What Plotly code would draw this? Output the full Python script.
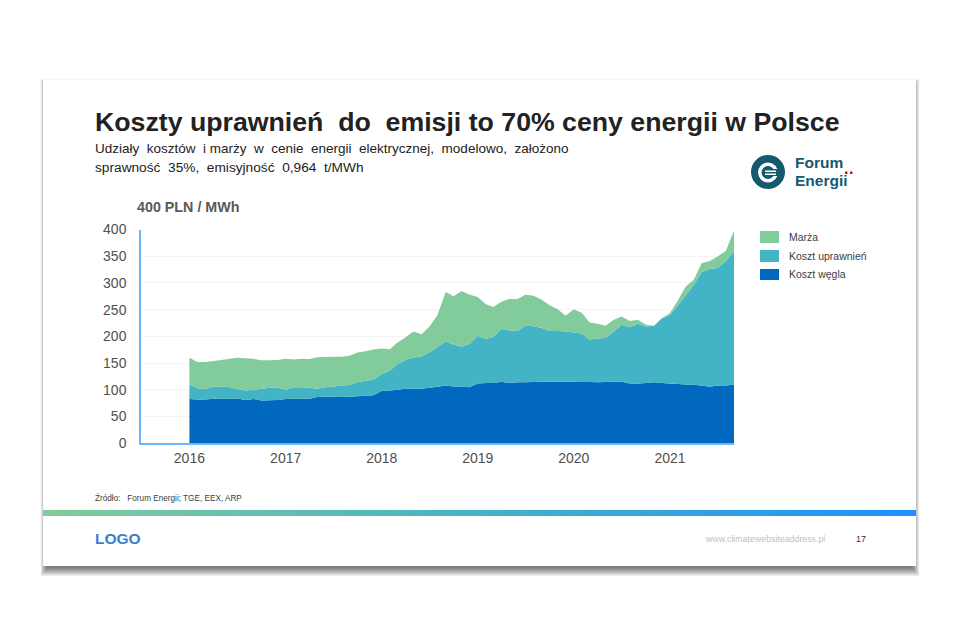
import pandas as pd
import plotly.graph_objects as go

# monthly values, PLN / MWh
months = pd.date_range("2016-01-01", "2021-09-01", freq="MS")

koszt_wegla = [
    83, 82, 82, 83.5, 83.5, 83.5, 84, 81, 83, 80, 80.5, 81,
    83, 83.5, 83.5, 83.5, 86.5, 87, 87, 86.5, 87, 88, 89, 90,
    98.5, 99, 100, 102, 102, 102, 104, 106, 108, 106.5, 106.5, 105,
    112, 113, 113, 115, 113, 114, 114, 114.5, 115, 115, 115, 115,
    115, 114.5, 114.5, 114, 114.5, 115, 115, 112, 112, 113, 114, 113,
    112, 111, 110, 109.5, 108, 106, 108, 108, 110,
]
koszt_uprawnien = [
    27, 21, 19.6, 22.5, 23, 21.2, 17.6, 18, 17, 22, 23.5, 23,
    17, 21.5, 21.5, 20.5, 15.5, 18, 19.5, 21.5, 22, 26.6, 28, 29,
    31.5, 37, 48, 54, 58.7, 60.6, 66, 74, 82.6, 78.5, 74.2, 81,
    89, 82, 86, 99, 98, 96, 106, 104.5, 100.6, 95, 95, 94,
    92.5, 91.1, 79.5, 82, 82.5, 94, 107, 105, 111.7, 105.7, 106, 121,
    128, 148, 166, 187.1, 212, 220, 220, 233, 249,
]
marza = [
    50, 49, 50.4, 48, 49.5, 53.3, 58.4, 60, 58, 53.5, 51.5, 52,
    58, 52, 53, 53.5, 59, 56.5, 55.5, 54, 55, 55.4, 55, 56.7,
    47.5, 40, 40, 42, 48.3, 41.4, 48, 60, 92.4, 90, 104.3, 92,
    72.5, 65, 56, 51, 59, 60, 58, 57, 52.9, 48.5, 41, 29.6,
    43.5, 38, 32, 27.7, 23, 22, 15, 12, 7.3, 3.3, 0, 0,
    3.6, 9.5, 17, 9.4, 17, 15, 21.5, 19, 39,
]

series_names = ["Koszt węgla", "Koszt uprawnień", "Marża"]
series_colors = ["#0069BF", "#43B3C6", "#82CB9B"]
# the page keeps an 8 px body margin, so the figure is that much smaller
PAGE = 8
W, H = 960 - PAGE, 640 - PAGE
FONT = "Liberation Sans"


# everything around the chart is placed in screen pixels
def fx(x):
    return (x - PAGE) / W


def fy(y):
    return 1 - (y - PAGE) / H


def rect(x0, y0, x1, y1, color, opacity=1, kind="rect"):
    return dict(
        type=kind, xref="paper", yref="paper", layer="below",
        x0=fx(x0), x1=fx(x1), y0=fy(y0), y1=fy(y1),
        fillcolor=color, opacity=opacity, line=dict(width=0),
    )


def label(x, y, text, size, color, anchor="left", bold=False):
    # annotations carry about 2 px of padding on the left
    return dict(
        xref="paper", yref="paper", x=fx(x - 2), y=fy(y), text=f"<b>{text}</b>" if bold else text,
        showarrow=False, xanchor=anchor, yanchor="middle", align="left",
        font=dict(family=FONT, size=size, color=color),
    )


shapes = []
# slide shadow, mostly under the bottom edge
for g in range(1, 10):
    shapes.append(rect(47 - g * 0.7, 85 - g * 0.6, 912 + g * 0.8, 567 + g, "#000000", 0.07))
shapes.append(rect(43, 80, 916, 566, "#FFFFFF"))

# gradient strip under the source line
steps = 120
for i in range(steps):
    t = i / (steps - 1)
    if t < 0.5:
        c = [130 + (67 - 130) * t * 2, 203 + (179 - 203) * t * 2, 155 + (198 - 155) * t * 2]
    else:
        c = [67 + (30 - 67) * (t - 0.5) * 2, 179 + (144 - 179) * (t - 0.5) * 2, 198 + (255 - 198) * (t - 0.5) * 2]
    x0 = 43 + (916 - 43) * i / steps
    x1 = 43 + (916 - 43) * (i + 1) / steps + 0.5
    shapes.append(rect(x0, 510, min(x1, 916), 516, f"rgb({c[0]:.0f},{c[1]:.0f},{c[2]:.0f})"))

# Forum Energii mark
shapes += [
    rect(751, 155, 785, 189, "#14596E", kind="circle"),
    rect(758, 162.5, 778, 182.5, "#FFFFFF", kind="circle"),
    rect(761.5, 166, 774.5, 179, "#14596E", kind="circle"),
    rect(772, 169, 780, 176, "#14596E"),
    rect(765, 170.5, 776, 172, "#FFFFFF"),
    rect(765, 173.5, 776, 175, "#FFFFFF"),
    rect(845, 171.5, 847.5, 174, "#E30613"),
    rect(850, 171.5, 852.5, 174, "#E30613"),
    # dot inside the first O of the footer logo
    rect(106.7, 536.7, 108.7, 538.7, "#82CB9B", kind="circle"),
]

# legend swatches
for (y0, y1), color in zip([(231, 243), (250, 262), (269, 280)], series_colors[::-1]):
    shapes.append(rect(760, y0, 779, y1, color))

annotations = [
    label(95, 122, "Koszty uprawnień  do  emisji to 70% ceny energii w Polsce", 26.7, "#222222", bold=True),
    label(95, 149, "Udziały  kosztów  i marży  w  cenie  energii  elektrycznej,  modelowo,  założono", 13.5, "#222222"),
    label(95, 167, "sprawność  35%,  emisyjność  0,964  t/MWh", 13.7, "#222222"),
    label(137, 207, "400 PLN / MWh", 14.3, "#595959", bold=True),
    label(795, 162.5, "Forum", 15.5, "#14596E", bold=True),
    label(795, 180.5, "Energii", 15.5, "#14596E", bold=True),
    label(789, 237, series_names[2], 10.5, "#404040"),
    label(789, 256, series_names[1], 10.5, "#404040"),
    label(789, 274, series_names[0], 10.5, "#404040"),
    label(95, 498, "Źródło:   Forum Energii; TGE, EEX, ARP", 8.2, "#404040"),
    label(95, 538, "LOGO", 15.5, "#3A80C8", bold=True),
    label(705, 539, "www.climatewebsiteaddress.pl", 8.8, "#BFBFBF"),
    label(856, 539, "17", 9, "#333333"),
]

fig = go.Figure()
for name, values, color in zip(series_names, [koszt_wegla, koszt_uprawnien, marza], series_colors):
    fig.add_trace(go.Scatter(
        x=months, y=values, name=name, mode="none", stackgroup="one",
        fillcolor=color, showlegend=False,
    ))

fig.update_layout(
    width=W,
    height=H,
    margin=dict(l=0, r=0, t=0, b=0),
    paper_bgcolor="#FFFFFF",
    plot_bgcolor="rgba(0,0,0,0)",
    font=dict(family=FONT),
    shapes=shapes,
    annotations=annotations,
    xaxis=dict(
        automargin=False,
        domain=[fx(141), fx(734)],
        type="date",
        range=["2015-07-01", "2021-09-01"],
        tick0="2016-01-01",
        dtick="M12",
        tickformat="%Y",
        showgrid=False,
        showline=True,
        linecolor="#6DB6FF",
        linewidth=1.5,
        ticks="",
        ticklabelstandoff=1,
        tickfont=dict(size=14, color="#505050"),
    ),
    yaxis=dict(
        automargin=False,
        domain=[fy(443.3), fy(229.5)],
        range=[0, 400],
        dtick=50,
        showgrid=True,
        gridcolor="#F4F4F4",
        gridwidth=1,
        zeroline=False,
        showline=True,
        linecolor="#6DB6FF",
        linewidth=1.5,
        ticks="",
        ticklabelstandoff=10,
        tickfont=dict(size=14, color="#505050"),
    ),
)

fig.write_html("out.html")
